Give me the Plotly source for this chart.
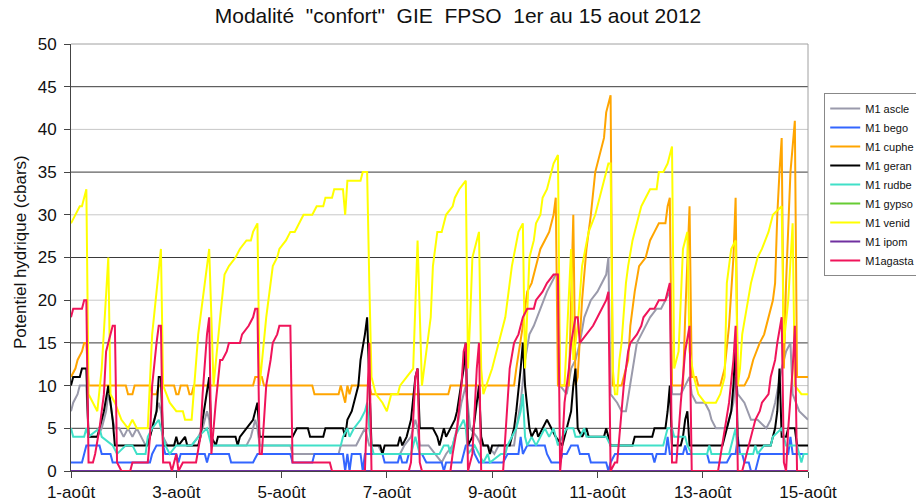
import pandas as pd
import plotly.graph_objects as go

START = pd.Timestamp("2012-08-01")

# (hour since 1-août 00:00, potentiel hydrique in cbars)
ascle = [(0,7),(1,8),(3,9),(4,10),(7,10),(8,4),(12,4),(14,5),(16,7),(17,9),(18,8),(19,6),(20,5),(22,5),(24,4),(26,5),(28,4),(30,5),(32,4),(34,3),(36,4),(38,6),(40,8),(41,7),(42,4),(44,3),(55,3),(58,4),(60,5),(62,7),(63,6),(64,3),(80,3),(82,4),(84,6),(85,5),(86,3),(100,3),(101,2),(122,2),(123,3),(130,3),(132,4),(134,5),(135,4),(136,3),(140,3),(142,2),(150,2),(152,3),(155,4),(157,6),(158,5),(159,3),(163,3),(166,2),(169,1),(171,2),(174,3),(176,5),(178,8),(180,10),(181,7),(182,5),(185,4),(187,3),(190,3),(193,2),(195,3),(202,3),(203,5),(205,8),(207,13),(209,16),(211,17),(214,19),(217,21),(219,22),(221,23),(222,23),(223,10),(226,9),(228,12),(230,13),(232,15),(234,18),(237,20),(240,21),(242,22),(244,23),(245,25),(246,9),(249,8),(251,7),(253,7),(255,10),(256,12),(258,15),(260,16),(262,17),(264,18),(267,19),(269,19),(271,20),(273,21),(274,9),(278,9),(280,10),(282,11),(283,9),(285,8),(289,8),(291,7),(292,6),(294,5),(299,5),(301,7),(302,8),(303,11),(304,9),(307,8),(310,6),(313,6),(317,5),(319,6),(321,8),(324,12),(326,14),(328,15),(329,9),(332,7),(336,6)]

bego = [(0,1),(5,1),(6,2),(7,3),(13,3),(14,2),(18,2),(19,1),(36,1),(37,2),(39,3),(42,3),(43,2),(48,2),(49,1),(50,2),(61,2),(62,1),(63,2),(72,2),(73,1),(83,1),(85,2),(100,2),(101,1),(110,1),(111,2),(124,2),(125,0),(126,2),(127,0),(128,2),(132,2),(133,0),(134,2),(142,2),(143,1),(149,1),(150,2),(151,1),(153,1),(154,2),(160,2),(162,1),(169,1),(170,0),(171,1),(178,1),(180,3),(183,3),(184,2),(186,1),(197,1),(199,2),(204,2),(205,4),(206,2),(208,3),(216,3),(217,2),(219,1),(223,1),(224,2),(226,2),(228,3),(231,3),(232,2),(236,2),(237,1),(244,1),(245,0),(246,1),(248,2),(265,2),(266,1),(267,2),(271,2),(272,4),(273,2),(279,2),(280,3),(281,2),(290,2),(291,1),(299,1),(301,2),(303,2),(304,4),(305,2),(306,2),(307,1),(309,1),(310,0),(312,0),(313,1),(314,2),(327,2),(328,4),(329,2),(336,2)]

cuphe = [(0,11),(2,12),(3,13),(5,14),(6,15),(7,15),(8,10),(25,10),(26,9),(28,9),(29,10),(36,10),(37,9),(39,9),(40,10),(47,10),(48,9),(49,9),(50,10),(53,10),(54,9),(55,9),(56,10),(83,10),(84,11),(87,11),(88,10),(110,10),(111,9),(122,9),(123,10),(124,9),(125,8),(126,10),(127,9),(128,10),(136,10),(137,9),(172,9),(173,10),(202,10),(203,12),(205,15),(206,17),(208,21),(210,22),(212,24),(214,26),(216,27),(218,28),(220,30),(221,32),(222,10),(227,10),(229,30),(230,10),(231,11),(233,20),(235,26),(237,30),(239,35),(241,37),(243,39),(244,42),(246,44),(247,10),(251,10),(254,13),(255,17),(257,21),(259,24),(262,25),(264,27),(266,28),(268,29),(271,29),(272,31),(273,32),(274,10),(279,10),(280,18),(282,31),(283,11),(285,11),(286,10),(296,10),(297,11),(298,12),(300,17),(302,25),(303,32),(304,10),(307,10),(309,11),(311,13),(314,15),(316,16),(318,18),(320,20),(321,22),(322,30),(323,35),(324,39),(325,12),(326,22),(328,35),(330,41),(331,11),(336,11)]

geran = [(0,10),(1,11),(4,11),(5,12),(7,12),(8,4),(12,4),(13,5),(15,7),(17,10),(18,8),(19,6),(20,3),(35,3),(36,4),(39,7),(40,11),(41,11),(42,3),(47,3),(48,4),(49,3),(52,4),(53,3),(58,3),(59,4),(60,6),(62,9),(63,11),(64,4),(66,3),(67,4),(75,4),(76,3),(77,4),(80,5),(83,6),(85,8),(86,4),(101,4),(103,5),(108,5),(109,4),(115,4),(116,5),(124,5),(125,4),(126,6),(128,7),(131,10),(132,13),(134,16),(135,18),(137,3),(141,3),(142,2),(143,3),(149,3),(150,4),(151,3),(153,4),(155,6),(157,11),(158,12),(159,5),(165,5),(167,4),(168,3),(170,5),(171,4),(173,5),(175,6),(176,7),(178,10),(179,12),(180,15),(181,3),(183,4),(184,6),(185,8),(186,10),(187,4),(188,3),(190,3),(191,2),(192,3),(200,3),(202,5),(203,7),(205,12),(206,15),(207,10),(208,7),(209,5),(210,4),(212,5),(213,4),(215,5),(217,6),(219,5),(221,4),(224,3),(226,5),(228,7),(229,10),(230,12),(231,5),(233,4),(235,5),(236,4),(243,4),(244,5),(246,3),(256,3),(257,4),(265,4),(266,5),(271,5),(272,7),(273,10),(274,3),(278,3),(279,4),(280,6),(281,7),(282,3),(297,3),(298,4),(299,5),(301,7),(302,10),(303,15),(304,3),(319,3),(320,4),(321,5),(322,7),(323,12),(324,4),(326,4),(327,5),(330,5),(331,3),(336,3)]

rudbe = [(0,5),(1,4),(6,4),(7,5),(8,4),(13,5),(14,4),(19,3),(21,2),(25,3),(28,3),(30,2),(34,2),(35,4),(37,5),(40,6),(41,5),(42,4),(43,3),(45,2),(48,3),(55,3),(58,4),(62,5),(63,4),(64,3),(123,3),(124,4),(126,5),(127,4),(129,5),(132,6),(134,7),(135,8),(136,5),(137,3),(138,2),(155,2),(156,3),(157,4),(158,3),(159,2),(168,2),(170,3),(172,3),(173,2),(175,4),(177,5),(179,6),(180,5),(181,2),(184,3),(186,2),(188,1),(190,2),(191,1),(196,2),(198,2),(199,3),(203,5),(205,7),(206,9),(207,4),(208,3),(210,4),(212,3),(214,4),(216,5),(218,4),(220,5),(222,3),(224,4),(226,5),(229,5),(230,4),(232,4),(234,5),(235,4),(244,4),(246,3),(270,3),(272,5),(274,5),(275,4),(280,4),(281,3),(283,2),(290,2),(291,3),(292,2),(300,2),(301,3),(303,5),(304,2),(311,2),(312,3),(313,2),(316,3),(319,3),(320,4),(324,5),(325,4),(326,3),(331,3),(332,2),(333,1),(334,2),(336,2)]

gypso = [(0,0),(336,0)]

venid = [(0,29),(2,30),(4,31),(5,31),(6,32),(7,33),(8,9),(10,8),(12,7),(14,12),(16,20),(17,25),(18,9),(20,8),(23,6),(26,5),(28,6),(30,5),(35,5),(37,16),(41,26),(42,10),(45,8),(48,7),(51,7),(52,6),(55,6),(58,16),(63,26),(65,10),(68,18),(70,23),(72,24),(75,25),(77,26),(80,27),(82,27),(83,28),(85,29),(86,10),(89,18),(92,24),(94,25),(95,26),(98,27),(100,28),(102,28),(106,30),(110,30),(112,31),(115,31),(116,32),(119,32),(120,33),(124,33),(125,30),(126,34),(132,34),(133,35),(135,35),(136,22),(137,11),(139,9),(142,8),(144,7),(146,9),(149,9),(150,10),(153,11),(156,12),(158,27),(160,10),(164,18),(165,24),(167,28),(169,28),(171,30),(174,31),(175,32),(177,33),(180,34),(181,12),(182,18),(183,25),(186,28),(187,12),(188,9),(192,12),(196,16),(198,18),(201,24),(204,28),(206,29),(207,12),(209,25),(211,27),(212,29),(214,30),(215,32),(217,33),(218,34),(220,36),(222,37),(223,10),(225,10),(228,26),(229,13),(231,17),(233,24),(236,28),(239,30),(241,32),(243,34),(245,36),(246,36),(247,12),(248,9),(249,9),(250,13),(251,15),(253,22),(254,24),(256,27),(257,28),(259,30),(260,31),(262,32),(264,33),(267,33),(268,35),(270,35),(272,36),(274,38),(275,12),(277,14),(279,26),(281,28),(282,14),(284,11),(286,9),(289,8),(294,8),(296,9),(298,11),(299,22),(301,26),(303,27),(304,10),(305,12),(306,16),(310,22),(313,25),(315,26),(318,28),(320,30),(324,31),(325,15),(327,20),(329,29),(330,10),(333,9),(336,9)]

ipom = [(0,0),(336,0)]

agasta = [(0,18),(1,19),(5,19),(6,20),(7,20),(8,1),(10,1),(11,2),(13,5),(15,9),(16,14),(18,16),(19,17),(20,17),(21,1),(23,0),(27,0),(28,1),(35,1),(36,4),(37,10),(39,15),(40,17),(41,17),(42,1),(45,1),(46,0),(47,1),(48,2),(49,0),(51,1),(57,1),(59,4),(60,9),(62,16),(63,18),(64,2),(66,8),(68,13),(69,13),(71,14),(72,15),(77,15),(78,16),(81,17),(83,18),(84,19),(85,19),(86,2),(87,2),(89,10),(91,13),(92,15),(94,16),(95,17),(100,17),(101,1),(118,1),(119,0),(134,0),(135,8),(136,15),(137,0),(154,0),(155,1),(156,7),(157,11),(158,12),(159,1),(160,0),(173,0),(174,2),(176,5),(178,10),(179,14),(180,15),(181,0),(183,2),(184,8),(185,12),(186,15),(187,0),(197,0),(199,8),(200,12),(202,15),(204,16),(205,17),(206,18),(208,19),(211,19),(212,20),(215,21),(217,22),(220,23),(222,23),(223,0),(224,3),(225,8),(227,12),(228,15),(230,18),(231,18),(232,15),(235,16),(238,17),(240,18),(242,19),(244,20),(245,21),(246,0),(248,1),(249,1),(250,4),(252,10),(254,14),(255,15),(258,16),(260,17),(261,18),(264,19),(266,19),(268,20),(271,20),(272,21),(273,22),(274,1),(276,1),(278,8),(280,14),(282,17),(283,0),(295,0),(297,3),(300,8),(302,13),(303,17),(304,0),(306,0),(307,1),(309,3),(312,6),(314,7),(315,8),(318,9),(319,11),(321,13),(322,15),(324,18),(325,1),(326,0),(327,5),(329,12),(330,17),(331,0),(336,0)]

series_names = ["M1 ascle", "M1 bego", "M1 cuphe", "M1 geran", "M1 rudbe",
                "M1 gypso", "M1 venid", "M1 ipom", "M1agasta"]
series_data = [ascle, bego, cuphe, geran, rudbe, gypso, venid, ipom, agasta]
series_colors = ["#9a9aab", "#3366ff", "#ffa500", "#000000", "#40e0c8",
                 "#66cc33", "#ffff00", "#7030a0", "#f0145a"]

tick_days = [1, 3, 5, 7, 9, 11, 13, 15]
tick_labels = ["1-août", "3-août", "5-août", "7-août", "9-août", "11-août", "13-août", "15-août"]

FONT = "Liberation Sans, Arial, sans-serif"

fig = go.Figure()
for name, pts, color in zip(series_names, series_data, series_colors):
    hrs = [p[0] for p in pts]
    vals = [p[1] for p in pts]
    xs = [START + pd.Timedelta(hours=h) for h in hrs]
    fig.add_trace(go.Scatter(x=xs, y=vals, mode="lines", name=name,
                             line=dict(color=color, width=2)))

shapes = []
for v in range(5, 50, 5):
    dark = (v % 10 == 5)
    shapes.append(dict(type="line", xref="paper", x0=0, x1=1, yref="y", y0=v, y1=v,
                       line=dict(color="#3a3a3a" if dark else "#c8c8c8", width=1),
                       layer="below"))
shapes.append(dict(type="line", xref="paper", x0=0, x1=1, yref="paper", y0=1, y1=1,
                   line=dict(color="#a0a0a0", width=1), layer="below"))
shapes.append(dict(type="line", xref="paper", x0=1, x1=1, yref="paper", y0=0, y1=1,
                   line=dict(color="#a0a0a0", width=1), layer="below"))

fig.update_layout(
    width=916, height=504,
    margin=dict(l=71, r=108, t=44, b=33, autoexpand=False),
    paper_bgcolor="white", plot_bgcolor="white",
    font=dict(family=FONT, color="#111111"),
    title=dict(text='Modalité  "confort"  GIE  FPSO  1er au 15 aout 2012',
               font=dict(size=21, family=FONT, color="#111111"),
               x=0.5, xanchor="center", xref="container",
               y=1 - 16 / 504, yanchor="middle", yref="container"),
    xaxis=dict(type="date", automargin=False,
               range=[START, START + pd.Timedelta(days=14)],
               tickvals=[START + pd.Timedelta(days=d - 1) for d in tick_days],
               ticktext=tick_labels,
               ticks="outside", ticklen=6, tickcolor="#444444",
               showline=True, linecolor="#444444", linewidth=1,
               showgrid=False, zeroline=False, layer="below traces",
               tickfont=dict(size=17, family=FONT, color="#111111")),
    yaxis=dict(range=[0, 50], tickvals=list(range(0, 51, 5)), automargin=False,
               ticks="outside", ticklen=6, tickcolor="#444444",
               showline=True, linecolor="#444444", linewidth=1,
               showgrid=False, zeroline=False, layer="below traces",
               ticklabelstandoff=4,
               tickfont=dict(size=17, family=FONT, color="#111111")),
    legend=dict(x=1.022, y=0.885, xanchor="left", yanchor="top",
                bordercolor="#888888", borderwidth=1, bgcolor="white",
                font=dict(size=11, family=FONT, color="#111111"),
                itemwidth=30, tracegroupgap=0),
    annotations=[dict(text="Potentiel hydrique (cbars)", textangle=-90,
                      xref="paper", x=(20 - 71) / 737, xanchor="center",
                      yref="paper", y=(471 - 252) / 427, yanchor="middle",
                      showarrow=False,
                      font=dict(size=17, family=FONT, color="#111111"))],
    shapes=shapes,
)

fig.write_html("out.html", config={"displayModeBar": False},
               post_script="document.body.style.margin='0';document.body.style.overflow='hidden';")
